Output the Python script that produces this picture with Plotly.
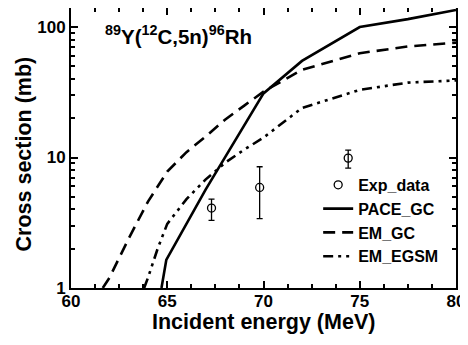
import plotly.graph_objects as go

exp_x = [67.3, 69.8, 74.4]
exp_y = [4.1, 5.9, 9.9]
exp_err_plus = [0.7, 2.6, 1.5]
exp_err_minus = [0.8, 2.5, 1.6]

pace_x = [64.7, 64.95, 67.0, 70.0, 72.0, 75.0, 77.5, 80.0]
pace_y = [1.0, 1.64, 5.7, 31.0, 55.0, 100.0, 115.0, 135.0]

emgc_x = [61.65, 62.0, 63.0, 64.0, 65.0, 66.0, 67.0, 68.0, 69.0, 70.0, 72.0, 75.0, 77.5, 80.0]
emgc_y = [1.0, 1.2, 2.4, 4.6, 7.8, 11.0, 14.5, 19.5, 25.0, 32.0, 47.0, 63.0, 71.0, 76.0]

emegsm_x = [63.8, 64.0, 64.5, 65.0, 66.0, 67.0, 68.0, 69.0, 70.0, 72.0, 75.0, 77.5, 80.0]
emegsm_y = [1.0, 1.2, 2.0, 3.1, 4.8, 6.8, 9.1, 11.5, 14.2, 24.0, 33.0, 37.5, 39.0]

FONT = "Liberation Sans, Arial, sans-serif"

fig = go.Figure()
fig.add_trace(go.Scatter(
    x=exp_x, y=exp_y, mode="markers", name="Exp_data",
    marker=dict(symbol="circle-open", size=8, color="black", line=dict(width=1.3)),
    error_y=dict(type="data", array=exp_err_plus, arrayminus=exp_err_minus,
                 color="black", thickness=1.3, width=3),
))
fig.add_trace(go.Scatter(x=pace_x, y=pace_y, mode="lines", name="PACE_GC",
                         line=dict(color="black", width=2.6)))
fig.add_trace(go.Scatter(x=emgc_x, y=emgc_y, mode="lines", name="EM_GC",
                         line=dict(color="black", width=2.6, dash="12px,7px")))
fig.add_trace(go.Scatter(x=emegsm_x, y=emegsm_y, mode="lines", name="EM_EGSM",
                         line=dict(color="black", width=2.6, dash="10px,5px,3px,5px,3px,5px")))

fig.update_layout(
    width=468, height=345,
    margin=dict(l=63, r=20, t=0, b=65),
    paper_bgcolor="white", plot_bgcolor="white",
    font=dict(family=FONT, color="black", size=17),
    showlegend=True,
    legend=dict(x=0.642, y=0.429, xanchor="left", yanchor="top",
                bgcolor="rgba(0,0,0,0)", font=dict(size=16, family=FONT, weight="bold"),
                tracegroupgap=0),
    xaxis=dict(range=[60, 80], dtick=5, showline=True, linecolor="black", linewidth=2,
               mirror="ticks", ticks="inside", ticklen=7, tickwidth=2, tickcolor="black",
               showgrid=False, zeroline=False, automargin=False, ticklabelstandoff=-3,
               tickfont=dict(size=17, family=FONT, weight="bold"),
               minor=dict(ticks="inside", ticklen=4, tickwidth=2, tickcolor="black",
                          dtick=1.25, showgrid=False)),
    yaxis=dict(type="log", range=[0, 2.146], showline=True, linecolor="black", linewidth=2,
               mirror="ticks", ticks="inside", ticklen=7, tickwidth=2, tickcolor="black",
               showgrid=False, zeroline=False, automargin=False,
               tickvals=[1, 10, 100], ticktext=["1", "10", "100"],
               tickfont=dict(size=17, family=FONT, weight="bold"),
               minor=dict(ticks="inside", ticklen=4, tickwidth=2, tickcolor="black",
                          dtick="D1", showgrid=False)),
    annotations=[
        dict(text="<sup>89</sup>Y(<sup>12</sup>C,5n)<sup>96</sup>Rh",
             xref="paper", yref="paper", x=0.083, y=0.957, xanchor="left", yanchor="top",
             showarrow=False, font=dict(size=20.5, family=FONT, weight="bold")),
        dict(text="Incident energy (MeV)", xref="paper", yref="paper", x=0.5, y=-0.121,
             xanchor="center", yanchor="middle", showarrow=False,
             font=dict(size=21.5, family=FONT, weight="bold")),
        dict(text="Cross section (mb)", xref="paper", yref="paper", x=-0.122, y=0.477,
             xanchor="center", yanchor="middle", textangle=-90, showarrow=False,
             font=dict(size=21.5, family=FONT, weight="bold")),
    ],
)

fig.write_html("out.html")
